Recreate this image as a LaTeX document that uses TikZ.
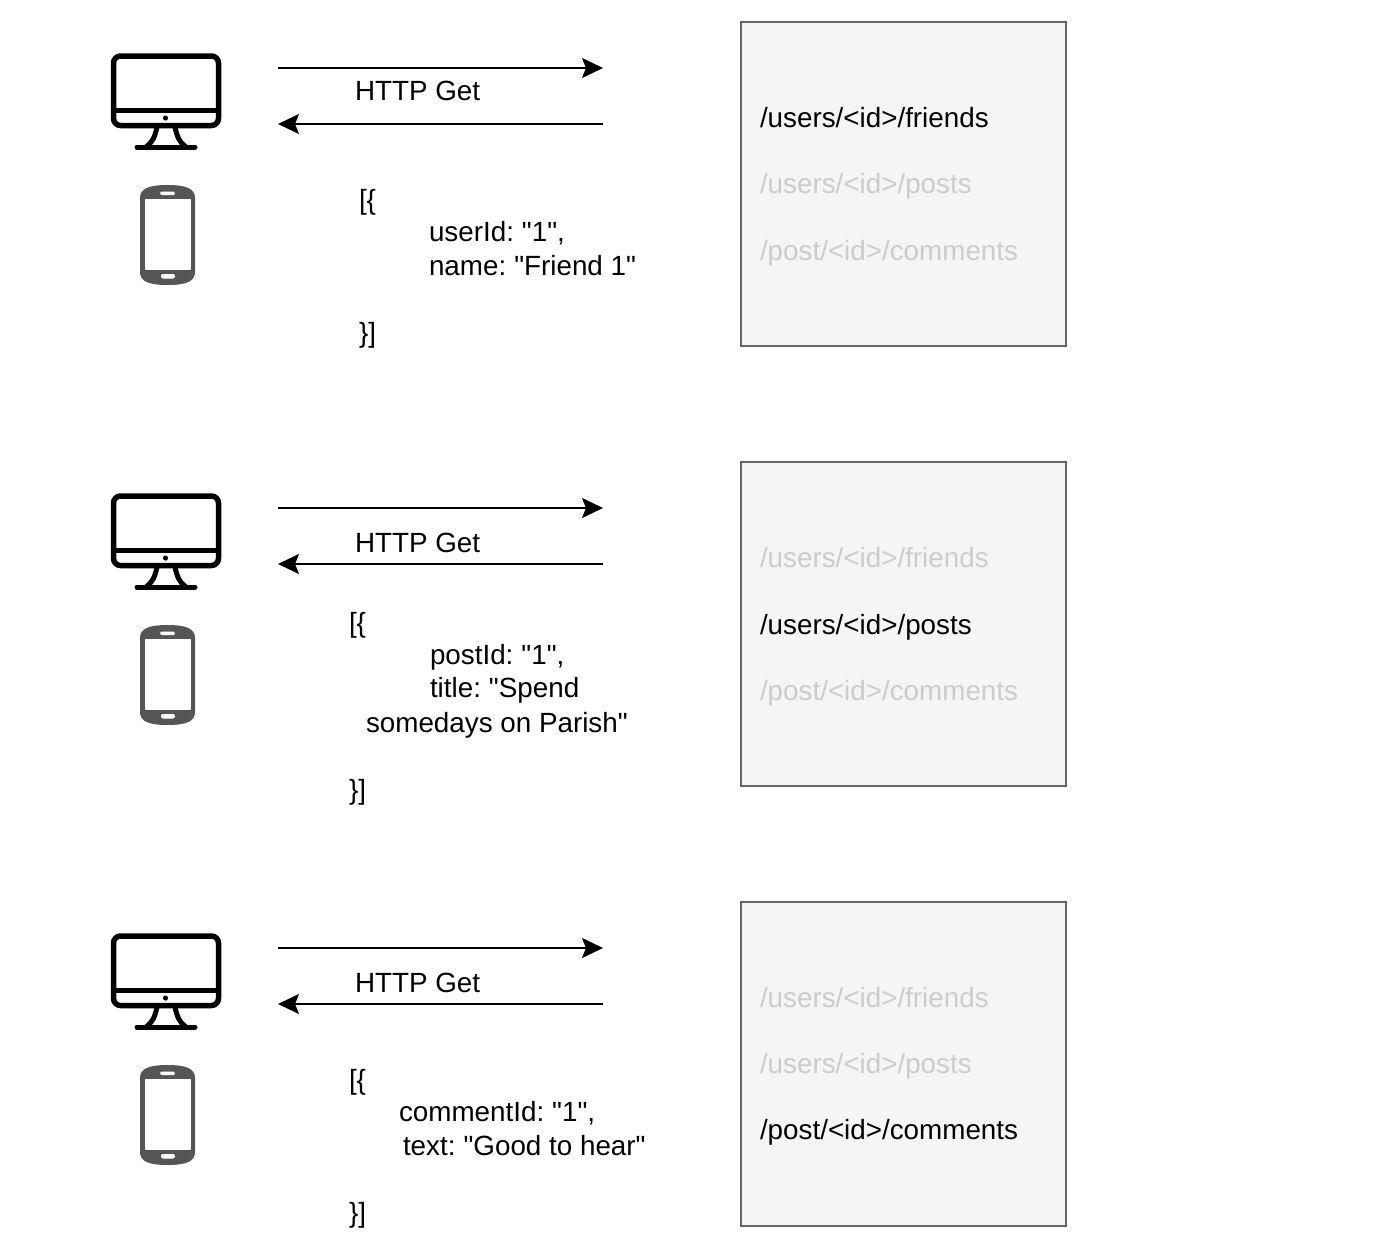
\documentclass[tikz,border=0pt]{standalone}
\usepackage{fontspec}
\newfontfamily\plainsans{Liberation Sans}
\usetikzlibrary{arrows.meta}
\definecolor{phonegray}{HTML}{555555}
\definecolor{boxfill}{HTML}{F5F5F5}
\definecolor{boxline}{HTML}{666666}
\definecolor{dimtext}{HTML}{CCCCCC}
\newcommand{\colsp}{:\kern0.3pt\ }
\tikzset{
  txt/.style={anchor=base west,inner sep=0pt,outer sep=0pt,font=\plainsans\fontsize{27.8}{33}\selectfont,text=black},
  dim/.style={txt,text=dimtext},
  apibox/.style={draw=boxline,fill=boxfill,line width=2pt,minimum width=324.5pt,minimum height=324.5pt,inner sep=0pt,outer sep=0pt,anchor=north west},
  flow/.style={draw=black,line width=2pt,-{Stealth[length=21pt,width=20pt,inset=4pt]}},
  mon/.style={draw=black,line width=5.5pt,line cap=round,line join=round},
}
\newcommand{\clientpic}[3]{%
 \begin{scope}[yshift=-#2pt]
  % monitor
  \draw[mon,rounded corners=7pt] (113.5,56) rectangle (218.5,125.5);
  \draw[draw=black,line width=5pt] (113,110) -- (219,110);
  \fill[black] (165.5,118) circle (2.6);
  \draw[draw=black,line width=5pt] (157,127) .. controls (155,137) and (152,143) .. (146,147);
  \draw[draw=black,line width=5pt] (175,127) .. controls (177,137) and (180,143) .. (186,147);
  \draw[draw=black,line width=5pt,line cap=round] (137,147) -- (195,147);
  % phone
  \fill[phonegray] (140,198) .. controls (140,189) and (148,185) .. (167.5,185)
     .. controls (187,185) and (195,189) .. (195,198) -- (195,272)
     .. controls (195,281) and (187,285) .. (167.5,285)
     .. controls (148,285) and (140,281) .. (140,272) -- cycle;
  \fill[white] (144.5,199) rectangle (190.5,269.5);
  \fill[white,rounded corners=1.5pt] (160,191.5) rectangle (175,195);
  \fill[white,rounded corners=2pt] (161,274) rectangle (175,278.5);
  % arrows
  \coordinate (#1-a) at (278,68);
  \coordinate (#1-b) at (603,68);
  \coordinate (#1-c) at (603,124);
  \coordinate (#1-d) at (278,124);
  \draw[flow] (#1-a) -- (#1-b);
  \draw[flow] (#1-c) -- (#1-d);
  \node[txt] (#1-http) at (355,#3) {HTTP Get};
  \node[apibox] (#1-box) at (741.3,21.7) {};
 \end{scope}}
\begin{document}
\begin{tikzpicture}[x=1pt,y=-1pt]
\useasboundingbox (0,0) rectangle (1400,1258);
\clientpic{r1}{0}{100.5}
\clientpic{r2}{440}{112.5}
\clientpic{r3}{880}{112.5}
% row 1
\node[txt] (a1) at (760,127) {/users/<id>/friends};
\node[dim] (a2) at (760,193.5) {/users/<id>/posts};
\node[dim] (a3) at (760,260) {/post/<id>/comments};
\node[txt] (j1) at (359,209) {[\{};
\node[txt] (j2) at (429,241) {userId\colsp"1",};
\node[txt] (j3) at (429,275) {name\colsp"Friend 1"};
\node[txt] (j4) at (359,342) {\}]};
% row 2
\node[dim] (b1) at (760,567.5) {/users/<id>/friends};
\node[txt] (b2) at (760,634) {/users/<id>/posts};
\node[dim] (b3) at (760,700) {/post/<id>/comments};
\node[txt] (k1) at (349,632) {[\{};
\node[txt] (k2) at (430,664.5) {postId\colsp"1",};
\node[txt] (k3) at (430,697.5) {title\colsp"Spend};
\node[txt] (k4) at (366,732) {somedays on Parish"};
\node[txt] (k5) at (349,799) {\}]};
% row 3
\node[dim] (c1) at (760,1007) {/users/<id>/friends};
\node[dim] (c2) at (760,1073.5) {/users/<id>/posts};
\node[txt] (c3) at (760,1139.5) {/post/<id>/comments};
\node[txt] (m1) at (349,1089) {[\{};
\node[txt] (m2) at (399,1121.5) {commentId\colsp"1",};
\node[txt] (m3) at (403,1155) {text\colsp"Good to hear"};
\node[txt] (m4) at (349,1222) {\}]};
\end{tikzpicture}
\end{document}
